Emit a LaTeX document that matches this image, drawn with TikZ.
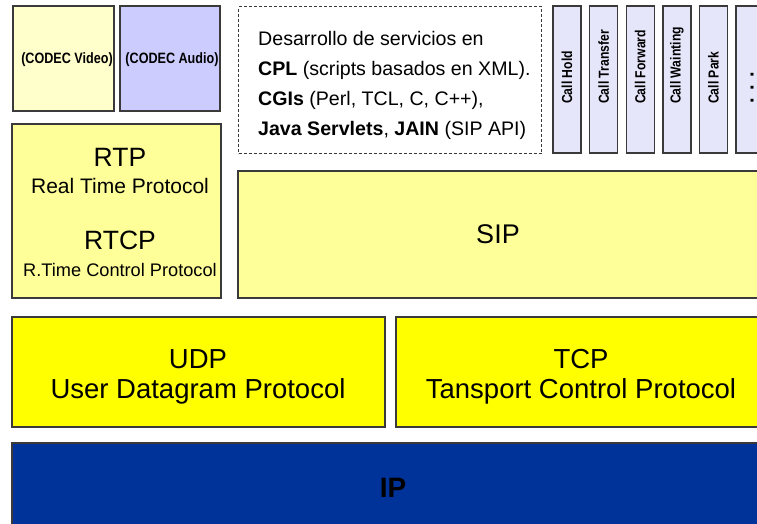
\documentclass[tikz,border=0pt]{standalone}
\usepackage{fontspec}
\setmainfont{Liberation Sans}
\newfontfamily\narrowfont[FakeStretch=0.84]{Liberation Sans}
\newcommand\fsz[1]{\fontsize{#1}{#1}\selectfont}
\definecolor{codecv}{HTML}{FFFFCC}
\definecolor{codeca}{HTML}{CCCCFF}
\definecolor{paleyel}{HTML}{FFFF99}
\definecolor{callfill}{HTML}{E6E6FA}
\definecolor{brightyel}{HTML}{FFFF00}
\definecolor{ipblue}{HTML}{003399}
\definecolor{edge}{HTML}{3A3A3A}
\begin{document}
\begin{tikzpicture}[x=1pt,y=-1pt,
  box/.style={draw=edge, line width=1.4pt, anchor=north west, inner sep=0pt, outer sep=0pt},
  dashbox/.style={draw=edge, line width=1.2pt, dash pattern=on 3pt off 2pt, anchor=north west, inner sep=0pt},
  txt/.style={inner sep=0pt, anchor=base},
  codectxt/.style={inner sep=0pt, anchor=base, font=\narrowfont\bfseries\fsz{15}},
  calltxt/.style={inner sep=0pt, rotate=90, anchor=west, font=\narrowfont\bfseries\fsz{14.5}},
  dltxt/.style={inner sep=0pt, anchor=base west, font=\fsz{19.6}}]
\useasboundingbox (0,0) rectangle (757,523);
\clip (0,0) rectangle (757,523);
\fill[white] (0,0) rectangle (757,523);

% top row
\node[box, fill=codecv, minimum width=101pt, minimum height=105pt] (codecv) at (13,6) {};
\node[box, fill=codeca, minimum width=100pt, minimum height=105pt] (codeca) at (120,6) {};
\node[codectxt] (tcv) at (67,63) {(CODEC Video)};
\node[codectxt] (tca) at (172,63) {(CODEC Audio)};

\node[dashbox, minimum width=303pt, minimum height=147pt] (dev) at (238,6) {};
\node[dltxt] (dl1) at (258,45) {Desarrollo de servicios en};
\node[dltxt] (dl2) at (258,75) {\textbf{CPL} (scripts basados en XML).};
\node[dltxt] (dl3) at (258,105) {\textbf{CGIs} (Perl, TCL, C, C++),};
\node[dltxt] (dl4) at (258,135) {\textbf{Java Servlets}, \textbf{JAIN} (SIP API)};

% call boxes
\node[box, fill=callfill, minimum width=28pt, minimum height=147pt] (c1) at (553,6) {};
\node[box, fill=callfill, minimum width=28pt, minimum height=147pt] (c2) at (589.6,6) {};
\node[box, fill=callfill, minimum width=28pt, minimum height=147pt] (c3) at (626.2,6) {};
\node[box, fill=callfill, minimum width=28pt, minimum height=147pt] (c4) at (662.8,6) {};
\node[box, fill=callfill, minimum width=28pt, minimum height=147pt] (c5) at (699.4,6) {};
\node[box, fill=callfill, minimum width=28pt, minimum height=147pt] (c6) at (736,6) {};
\node[calltxt] (t1) at (567,104) {Call Hold};
\node[calltxt] (t2) at (603.6,104) {Call Transfer};
\node[calltxt] (t3) at (640.2,104) {Call Forward};
\node[calltxt] (t4) at (676.8,104) {Call Wainting};
\node[calltxt] (t5) at (713.4,104) {Call Park};
\node[inner sep=0pt, rotate=90, anchor=west, font=\bfseries\fsz{20}] (t6) at (752,104) {. . .};

% RTP / SIP
\node[box, fill=paleyel, minimum width=209pt, minimum height=174pt] (rtp) at (12,124) {};
\node[txt, font=\fsz{26.5}] (rtp1) at (120,166) {RTP};
\node[txt, font=\fsz{21}] (rtp2) at (120,193) {Real Time Protocol};
\node[txt, font=\fsz{26.5}] (rtp3) at (120,249) {RTCP};
\node[txt, font=\fsz{18.2}] (rtp4) at (120,276) {R.Time Control Protocol};

\node[box, fill=paleyel, minimum width=540pt, minimum height=127pt] (sip) at (238,171) {};
\node[txt, font=\fsz{27}] (sipt) at (498,243) {SIP};

% UDP / TCP
\node[box, fill=brightyel, minimum width=373pt, minimum height=110pt] (udp) at (12,317) {};
\node[txt, font=\fsz{27.5}] (udp1) at (198,368) {UDP};
\node[txt, font=\fsz{27.5}] (udp2) at (198,398) {User Datagram Protocol};
\node[box, fill=brightyel, minimum width=380pt, minimum height=110pt] (tcp) at (396,317) {};
\node[txt, font=\fsz{27.5}] (tcp1) at (581,368) {TCP};
\node[txt, font=\fsz{27.5}] (tcp2) at (581,398) {Tansport Control Protocol};

% IP
\node[box, fill=ipblue, minimum width=780pt, minimum height=100pt] (ip) at (12,443) {};
\node[txt, font=\bfseries\fsz{28}] (ipt) at (393,497) {IP};
\end{tikzpicture}
\end{document}
